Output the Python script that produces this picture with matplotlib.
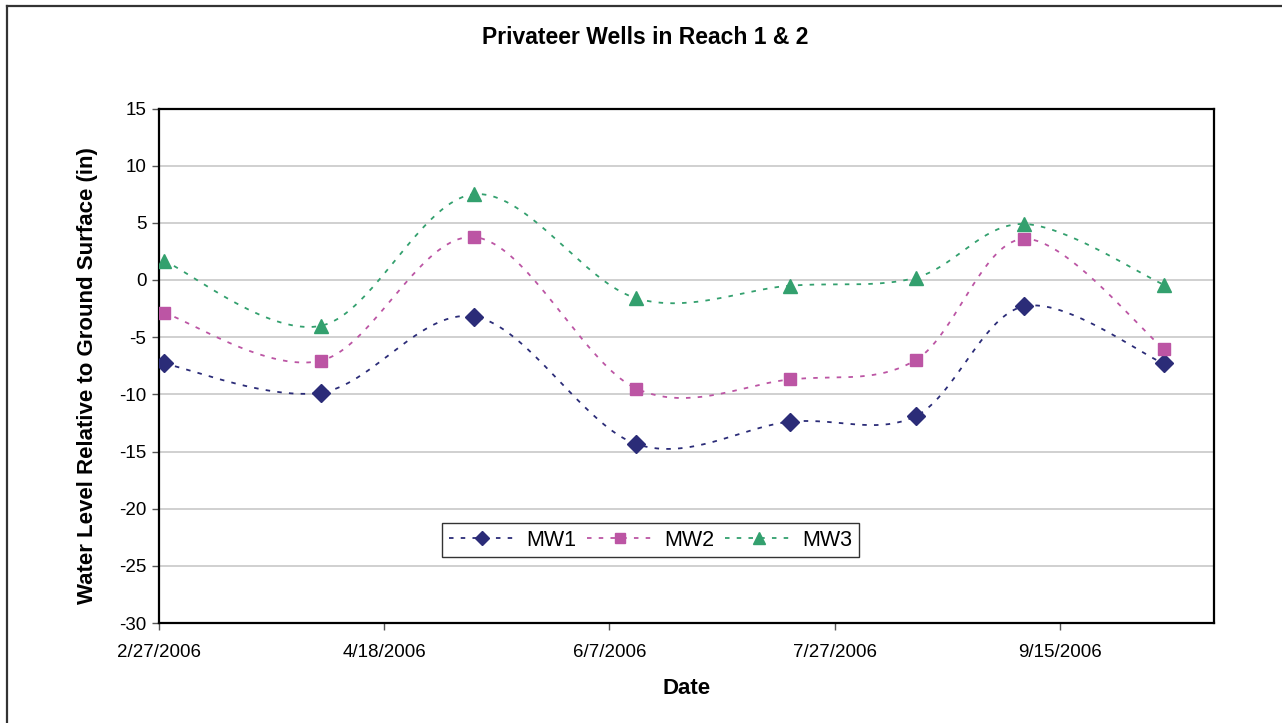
import numpy as np
import matplotlib
matplotlib.use("Agg")
import matplotlib.pyplot as plt
import matplotlib.dates as mdates
from matplotlib.lines import Line2D
import datetime as dt

plt.rcParams['font.family'] = ['Liberation Sans', 'DejaVu Sans']
plt.rcParams['axes.unicode_minus'] = False

dates = ["2006-02-28", "2006-04-04", "2006-05-08", "2006-06-13",
         "2006-07-17", "2006-08-14", "2006-09-07", "2006-10-08"]
mw1 = [-7.3, -9.85, -3.2, -14.35, -12.4, -11.9, -2.3, -7.3]
mw2 = [-2.85, -7.05, 3.75, -9.5, -8.7, -7.0, 3.6, -6.0]
mw3 = [1.7, -4.0, 7.5, -1.6, -0.5, 0.2, 4.9, -0.4]
series_names = ["MW1", "MW2", "MW3"]
tick_dates = ["2006-02-27", "2006-04-18", "2006-06-07", "2006-07-27", "2006-09-15"]
tick_labels = ["2/27/2006", "4/18/2006", "6/7/2006", "7/27/2006", "9/15/2006"]

colors = ["#2B2C78", "#BC55A4", "#33A06E"]
markers = ["D", "s", "^"]
msizes = [9, 9, 10]


def to_num(ds):
    return np.array([mdates.date2num(dt.datetime.strptime(d, "%Y-%m-%d")) for d in ds])


def smooth(x, y, n=40):
    x = np.asarray(x, float)
    y = np.asarray(y, float)
    P = np.column_stack([x, y])
    m = len(P)
    out = []
    for i in range(m - 1):
        p0 = P[i - 1] if i > 0 else P[i]
        p1 = P[i]
        p2 = P[i + 1]
        p3 = P[i + 2] if i + 2 < m else P[i + 1]
        b1 = p1 + (p2 - p0) / 6.0
        b2 = p2 - (p3 - p1) / 6.0
        t = np.linspace(0, 1, n)[:, None]
        seg = ((1 - t) ** 3) * p1 + 3 * ((1 - t) ** 2) * t * b1 + 3 * (1 - t) * t ** 2 * b2 + t ** 3 * p2
        out.append(seg if i == 0 else seg[1:])
    out = np.vstack(out)
    return out[:, 0], out[:, 1]


W, H = 1282, 723
fig = plt.figure(figsize=(W / 100, H / 100), dpi=100)
ax = fig.add_axes([159 / W, 1 - 623 / H, (1214 - 159) / W, (623 - 108.5) / H])

x = to_num(dates)
handles = []
for vals, c, mk, ms, name in zip([mw1, mw2, mw3], colors, markers, msizes, series_names):
    sx, sy = smooth(x, vals)
    ax.plot(sx, sy, color=c, lw=1.3, dashes=(2.5, 4), zorder=3)
    ax.plot(x, vals, ls="none", marker=mk, color=c, ms=ms, mec=c, zorder=4)
    handles.append(Line2D([], [], color=c, lw=1.3, dashes=(2.5, 4), marker=mk, ms=ms * 0.8, mec=c))

t0 = mdates.date2num(dt.datetime(2006, 2, 27))
ax.set_xlim(t0, t0 + 234.2)
ax.set_ylim(-30, 15)
ax.set_yticks(np.arange(-30, 16, 5))
ax.set_xticks(to_num(tick_dates))
ax.set_xticklabels(tick_labels)
ax.yaxis.grid(True, color="#C8C8C8", lw=1.2)
ax.set_axisbelow(True)
for s in ax.spines.values():
    s.set_color("black")
    s.set_linewidth(1.6)
ax.tick_params(axis="both", direction="out", length=5, width=1, color="#555555",
               labelsize=13.5, pad=10)
ax.tick_params(axis="y", pad=4)

fig.text(645 / W, 1 - 38 / H, "Privateer Wells in Reach 1 & 2", fontsize=16.5, fontweight="bold",
         ha="center", va="center")
fig.text(687 / W, 1 - 689 / H, "Date", fontsize=16, fontweight="bold", ha="center", va="center")
fig.text(87 / W, 1 - 376 / H, "Water Level Relative to Ground Surface (in)", fontsize=16,
         fontweight="bold", ha="center", va="center", rotation=90)

leg = ax.legend(handles, series_names, loc="center", bbox_to_anchor=(0.466, 0.161), ncol=3,
                fontsize=15.5, frameon=True, fancybox=False, edgecolor="black",
                handlelength=3.1, columnspacing=0.5, handletextpad=0.5, borderpad=0.3,
                borderaxespad=0, numpoints=1)
leg.get_frame().set_linewidth(1.0)

# outer chart frame
fig.add_artist(Line2D([7 / W, 7 / W], [0, 1 - 5.5 / H], transform=fig.transFigure,
                      color="#333333", lw=1.6))
fig.add_artist(Line2D([7 / W, 1], [1 - 5.5 / H, 1 - 5.5 / H], transform=fig.transFigure,
                      color="#333333", lw=1.6))

fig.savefig("out.png", dpi=100)
